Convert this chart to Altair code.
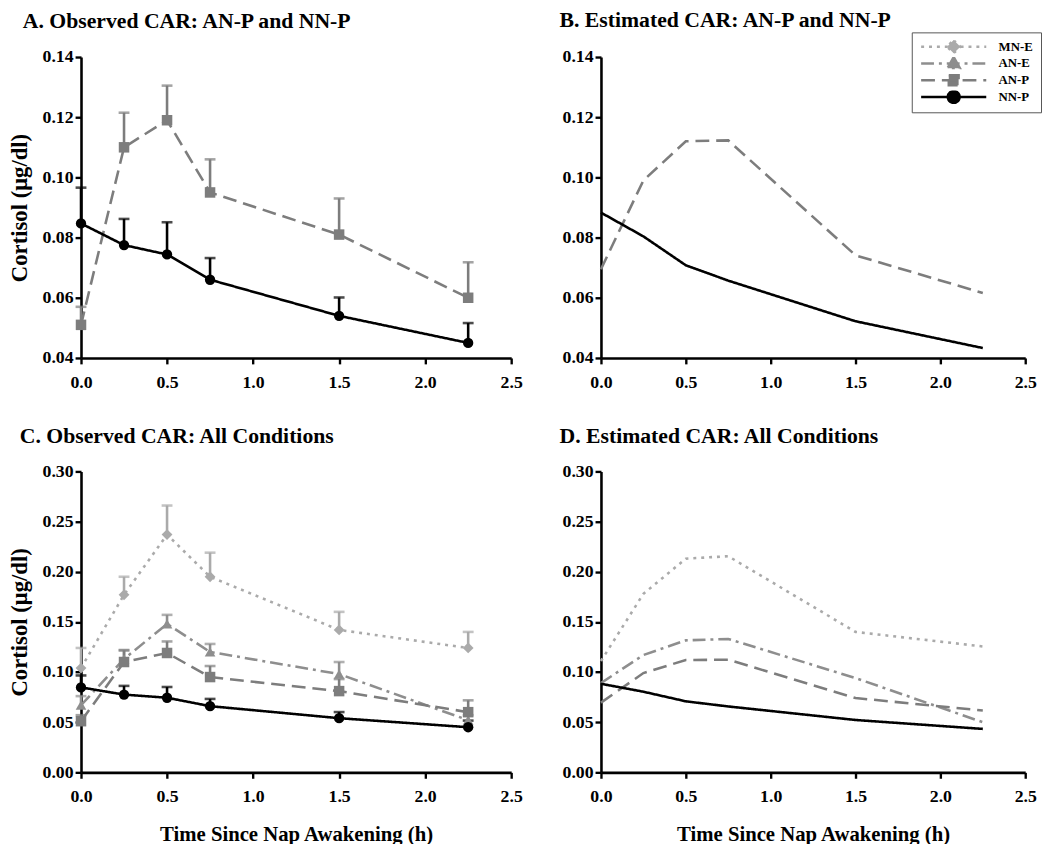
import altair as alt
import pandas as pd

# ---------------- data ----------------
series_names = ["MN-E", "AN-E", "AN-P", "NN-P"]
time_h = [0.0, 0.25, 0.5, 0.75, 1.5, 2.25]

# observed means and upper error-bar ends
obs_mne = [0.104, 0.177, 0.237, 0.195, 0.142, 0.124]
obs_mne_upper = [0.124, 0.195, 0.266, 0.219, 0.160, 0.140]
obs_ane = [0.067, 0.113, 0.148, 0.120, 0.098, 0.052]
obs_ane_upper = [0.076, 0.122, 0.157, 0.128, 0.110, 0.057]
obs_anp = [0.051, 0.110, 0.119, 0.095, 0.081, 0.060]
obs_anp_upper = [0.057, 0.1215, 0.1305, 0.106, 0.093, 0.0718]
obs_nnp = [0.0847, 0.0775, 0.0744, 0.066, 0.054, 0.045]
obs_nnp_upper = [0.0966, 0.0862, 0.0851, 0.0732, 0.0601, 0.0516]

# model-estimated curves
est_mne = [0.111, 0.178, 0.213, 0.2155, 0.140, 0.1255]
est_ane = [0.089, 0.117, 0.1316, 0.133, 0.094, 0.050]
est_anp = [0.0695, 0.099, 0.112, 0.1123, 0.0741, 0.0616]
est_nnp = [0.0883, 0.0804, 0.0708, 0.0657, 0.0522, 0.0433]

panel_titles = [
    "A. Observed CAR: AN-P and NN-P",
    "B. Estimated CAR: AN-P and NN-P",
    "C. Observed CAR: All Conditions",
    "D. Estimated CAR: All Conditions",
]
x_title = "Time Since Nap Awakening (h)"
y_title = "Cortisol (\u03bcg/dl)"

# ---------------- styles ----------------
colors = ["#aaaaaa", "#8e8e8e", "#7d7d7d", "#000000"]
dashes = [[3, 5], [13, 5, 3, 5], [14, 7], [1, 0]]
shapes = ["diamond", "triangle-up", "square", "circle"]
marker_sizes = [120, 110, 100, 150]
legend_paths = [
    "M-6.6,0H6.6M0,-1.35L1.35,0L0,1.35L-1.35,0Z",
    "M-6.6,0H6.6M0,-1.3L1.25,0.95L-1.25,0.95Z",
    "M-6.6,0H6.6M-1,-1H1V1H-1Z",
    "M-6.6,0H6.6M-1.2,0A1.2,1.2,0,1,0,1.2,0A1.2,1.2,0,1,0,-1.2,0Z",
]
FONT = "Liberation Serif"

rows = []
for name, vals, ups in [
    ("MN-E", obs_mne, obs_mne_upper),
    ("AN-E", obs_ane, obs_ane_upper),
    ("AN-P", obs_anp, obs_anp_upper),
    ("NN-P", obs_nnp, obs_nnp_upper),
]:
    for t, v, u in zip(time_h, vals, ups):
        rows.append({"series": name, "time": t, "value": v, "upper": u})
obs_df = pd.DataFrame(rows)

rows = []
for name, vals in [("MN-E", est_mne), ("AN-E", est_ane), ("AN-P", est_anp), ("NN-P", est_nnp)]:
    for t, v in zip(time_h, vals):
        rows.append({"series": name, "time": t, "value": v})
est_df = pd.DataFrame(rows)

legend_df = pd.DataFrame({"series_l": series_names})


def scales(ch):
    if ch == "color":
        return alt.Scale(domain=series_names, range=colors)
    if ch == "dash":
        return alt.Scale(domain=series_names, range=dashes)
    if ch == "shape":
        return alt.Scale(domain=series_names, range=shapes)
    if ch == "size":
        return alt.Scale(domain=series_names, range=marker_sizes)


def xy(ydomain, ystep, show_x_title, show_y_title, yfield="value"):
    yvals = []
    v = ydomain[0]
    while v <= ydomain[1] + 1e-9:
        yvals.append(round(v, 3))
        v += ystep
    x = alt.X(
        "time:Q",
        scale=alt.Scale(domain=[0, 2.5], nice=False, zero=False),
        axis=alt.Axis(values=[0, 0.5, 1.0, 1.5, 2.0, 2.5], format=".1f", labelFlush=False,
                      title=x_title if show_x_title else None),
    )
    y = alt.Y(
        f"{yfield}:Q",
        scale=alt.Scale(domain=ydomain, nice=False, zero=False),
        axis=alt.Axis(values=yvals, format=".2f", labelFlush=False,
                      title=y_title if show_y_title else None),
    )
    return x, y


def make_title(text, dx, offset=15):
    return alt.TitleParams(text, anchor="start", frame="group", dx=dx, offset=offset,
                           font=FONT, fontSize=22, fontWeight="bold", color="black")


def observed_panel(subset, ydomain, ystep, title, dx, show_x_title):
    base = alt.Chart(obs_df).transform_filter(
        alt.FieldOneOfPredicate(field="series", oneOf=subset)
    )
    x, y = xy(ydomain, ystep, show_x_title, True)
    _, yu = xy(ydomain, ystep, show_x_title, True, "upper")
    col = alt.Color("series:N", scale=scales("color"), legend=None)
    lines = base.mark_line(strokeWidth=2.6).encode(
        x=x, y=y, color=col,
        strokeDash=alt.StrokeDash("series:N", scale=scales("dash"), legend=None),
    )
    bars = base.mark_rule(strokeWidth=2.6).encode(x=x, y=y, y2="upper:Q", color=col)
    caps = base.mark_tick(orient="horizontal", size=11, thickness=2.6).encode(
        x=x, y=yu, color=col
    )
    pts = base.mark_point(filled=True, opacity=1).encode(
        x=x, y=y, color=col,
        shape=alt.Shape("series:N", scale=scales("shape"), legend=None),
        size=alt.Size("series:N", scale=scales("size"), legend=None),
    )
    return alt.layer(lines, bars, caps, pts).properties(
        width=436, height=305, title=make_title(title, dx)
    )


legend_def = alt.Legend(
    orient="none", legendX=315, legendY=-25, title=None,
    symbolSize=100, symbolStrokeWidth=2.5, symbolOffset=28, labelOffset=39,
    symbolOpacity=1, clipHeight=13,
    labelFont=FONT, labelFontWeight="bold", labelFontSize=13, labelColor="black",
    strokeColor="#555555", fillColor="white", padding=8, rowPadding=3,
)


def estimated_panel(subset, ydomain, ystep, title, dx, show_x_title, with_legend, offset):
    base = alt.Chart(est_df).transform_filter(
        alt.FieldOneOfPredicate(field="series", oneOf=subset)
    )
    x, y = xy(ydomain, ystep, show_x_title, False)
    leg = legend_def if with_legend else None
    lines = base.mark_line(strokeWidth=2.6).encode(
        x=x, y=y,
        color=alt.Color("series:N", scale=scales("color"), legend=leg),
        strokeDash=alt.StrokeDash("series:N", scale=scales("dash"), legend=leg),
    )
    layers = [lines]
    if with_legend:
        phantom = alt.Chart(legend_df).transform_filter("false").mark_point(
            filled=True, strokeWidth=2.5, opacity=1
        ).encode(
            fill=alt.Fill("series_l:N", scale=alt.Scale(domain=series_names, range=colors), legend=leg),
            stroke=alt.Stroke("series_l:N", scale=alt.Scale(domain=series_names, range=colors), legend=leg),
            strokeDash=alt.StrokeDash("series_l:N", scale=scales("dash"), legend=leg),
            shape=alt.Shape("series_l:N", scale=alt.Scale(domain=series_names, range=legend_paths), legend=leg),
        )
        layers.append(phantom)
    return alt.layer(*layers).properties(
        width=430, height=305, title=make_title(title, dx, offset)
    )


pA = observed_panel(["AN-P", "NN-P"], [0.04, 0.14], 0.02, panel_titles[0], -59, False)
pB = estimated_panel(["AN-P", "NN-P"], [0.04, 0.14], 0.02, panel_titles[1], -42, False, True, 0)
pC = observed_panel(series_names, [0.0, 0.30], 0.05, panel_titles[2], -62, True)
pD = estimated_panel(series_names, [0.0, 0.30], 0.05, panel_titles[3], -42, True, False, 15)

chart = alt.concat(pA, pB, pC, pD, columns=2, spacing={"row": 34, "column": 37}).resolve_scale(
    color="independent", strokeDash="independent", shape="independent",
    size="independent", fill="independent", stroke="independent",
).properties(
    padding={"left": 0, "top": -5, "right": 0, "bottom": 0}
).configure_view(stroke=None).configure_axis(
    grid=False,
    domainColor="black", domainWidth=2.6,
    tickColor="black", tickWidth=2.4, tickSize=6,
    labelFont=FONT, labelFontWeight="bold", labelFontSize=18, labelColor="black",
    titleFont=FONT, titleFontWeight="bold", titleFontSize=21, titleColor="black",
).configure_axisY(
    labelPadding=2, titlePadding=11, titleFontSize=23,
).configure_axisX(
    labelPadding=10, titlePadding=18,
)

chart.save("out.html", embed_options={"renderer": "svg", "actions": False})
